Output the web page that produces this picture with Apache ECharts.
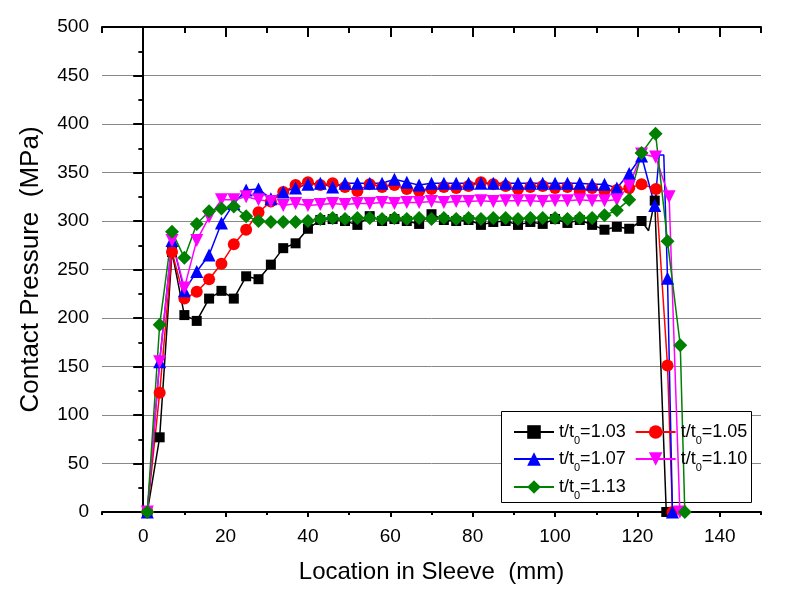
<!DOCTYPE html>
<html><head><meta charset="utf-8">
<script src="https://cdn.jsdelivr.net/npm/echarts@6/dist/echarts.min.js"></script>
<style>html,body{margin:0;padding:0;background:#fff}#c{width:789px;height:591px}</style>
</head><body><div id="c"></div>
<script>
// shared locations (mm)
const XS = [1,4,7,10,13,16,19,22,25,28,31,34,37,40,43,46,49,52,55,58,61,64,67,70,73,76,79,82,85,88,91,94,97,100,103,106,109,112,115,118,121];
// contact pressure (MPa) at XS
const Y103 = [0,77,268,203,197,220,228,220,243,240,255,272,277,292,301,302,300,296,305,300,302,300,297,307,301,300,301,296,299,300,296,299,297,302,298,301,296,291,294,292,300];
const Y105 = [0,123,268,220,227,240,256,276,291,309,320,330,337,340,337,339,335,331,338,335,337,333,331,333,335,334,336,340,338,336,333,335,336,334,335,331,334,331,332,334,338];
const Y107 = [0,155,280,228,248,265,298,318,332,333,323,330,334,338,339,335,339,339,339,339,343,340,337,339,339,339,339,339,339,339,339,339,339,339,339,339,338,338,334,349,367];
const Y110 = [0,155,280,231,280,304,322,322,325,322,320,316,318,316,317,318,317,318,318,319,318,319,319,320,319,320,320,321,320,321,321,321,320,321,321,322,321,321,322,336,369];
const Y113 = [0,193,289,262,297,310,313,315,305,300,299,299,299,300,302,303,302,303,303,302,303,302,303,302,303,302,303,302,303,303,302,303,303,303,302,303,303,306,311,322,370];
// end-of-sleeve points [x, y, marker(1/0)]
const T103 = [[122.7,290,0],[124.2,321,1],[127,0,1]];
const T105 = [[124.5,333,1],[127.3,151,1],[128.5,0,1]];
const T107 = [[124.2,316,1],[125.3,368,0],[126.4,368,0],[127.3,241,1],[128.5,0,1]];
const T110 = [[124.4,366,1],[127.7,325,1],[130.3,0,1]];
const T113 = [[124.4,390,1],[127.3,279,1],[130.4,172,1],[131.5,0,1]];
const NAMES = ['t/t0=1.03','t/t0=1.05','t/t0=1.07','t/t0=1.10','t/t0=1.13'];
const XMAJOR = [0,20,40,60,80,100,120,140];
const XMINOR = [-10,10,30,50,70,90,110,130,150];

function build(ys, tail){
  const d = XS.map((x,i)=>[x, ys[i]]);
  tail.forEach(p => d.push(p[2] ? [p[0],p[1]] : {value:[p[0],p[1]], symbol:'none'}));
  return d;
}
const FONT = 'Arial, "Liberation Sans", sans-serif';
const chart = echarts.init(document.getElementById('c'));
const blk = {color:'#000', width:2};
function xAx(pos, vals, len, inside, main){
  return {type:'value', position:pos, min:-10, max:150, interval:10,
    axisLine:{show:!!main, onZero:false, lineStyle:blk},
    axisTick:{show:true, customValues:vals, length:len, inside:inside, lineStyle:blk},
    axisLabel: main==='label' ? {customValues:XMAJOR, fontSize:19, color:'#000', margin:15, fontFamily:FONT} : {show:false},
    splitLine:{show:false},
    name: main==='label' ? 'Location in Sleeve  (mm)' : '',
    nameLocation:'middle', nameGap:48,
    nameTextStyle:{fontSize:24, color:'#000', fontFamily:FONT}
  };
}
const series = [
  {data:build(Y103,T103), symbol:'rect', symbolSize:10, color:'#000000'},
  {data:build(Y105,T105), symbol:'circle', symbolSize:12, color:'#ff0000'},
  {data:build(Y107,T107), symbol:'triangle', symbolSize:13, color:'#0000ff'},
  {data:build(Y110,T110), symbol:'triangle', symbolSize:13, symbolRotate:180, color:'#ff00ff'},
  {data:build(Y113,T113), symbol:'diamond', symbolSize:14, color:'#008000'}
].map((s,i)=>Object.assign({type:'line', name:NAMES[i], xAxisIndex:0, yAxisIndex:0,
  lineStyle:{width:1.5, color:s.color}, itemStyle:{color:s.color}, showSymbol:true}, s));

const legText = {color:'#000', fontFamily:FONT, fontSize:18,
  rich:{a:{fontSize:18, lineHeight:20, padding:[10,0,10,0], color:'#000', fontFamily:FONT},
        s:{fontSize:11, lineHeight:11, padding:[23,0,6,0], color:'#000', fontFamily:FONT}}};
function leg(data, top){
  return {data:data, left:513, top:top, orient:'horizontal', padding:0, itemWidth:40, itemHeight:17,
    itemGap:9, selectedMode:false, textStyle:legText, z:5,
    formatter: n => '{a|t/t}{s|0}{a|=' + n.split('=')[1] + '}'};
}
chart.setOption({
  animation:false,
  backgroundColor:'#fff',
  grid:{left:102, top:27, right:28, bottom:79},
  xAxis:[
    xAx('bottom', XMAJOR, 5, false, 'label'),
    xAx('bottom', XMINOR, 3, false, false),
    xAx('top', XMAJOR, 10, true, true),
    xAx('top', XMINOR, 6, true, false)
  ],
  yAxis:[
    {type:'value', position:'left', min:0, max:500, interval:50,
     axisLine:{show:true, lineStyle:blk}, axisTick:{show:true, length:8, lineStyle:blk},
     minorTick:{show:true, splitNumber:2, length:4, lineStyle:{color:'#000', width:1.5}},
     axisLabel:{fontSize:19, color:'#000', margin:13, fontFamily:FONT},
     splitLine:{show:true, lineStyle:{color:'#888', width:1}},
     name:'Contact Pressure  (MPa)', nameLocation:'middle', nameGap:58,
     nameTextStyle:{fontSize:26, color:'#000', fontFamily:FONT}},
    {type:'value', position:'right', min:0, max:500, interval:50,
     axisLine:{show:true, lineStyle:blk}, axisTick:{show:true, inside:true, length:10, lineStyle:blk},
     minorTick:{show:true, splitNumber:2, length:5, lineStyle:{color:'#000', width:1.5}},
     axisLabel:{show:false}, splitLine:{show:false}}
  ],
  legend:[leg([NAMES[0],NAMES[1]], 412), leg([NAMES[2],NAMES[3]], 439), leg([NAMES[4]], 467)],
  graphic:[{type:'rect', left:501, top:411, z:3, shape:{width:250, height:91},
            style:{fill:'#fff', stroke:'#000', lineWidth:1}}],
  series:series
});
</script></body></html>
